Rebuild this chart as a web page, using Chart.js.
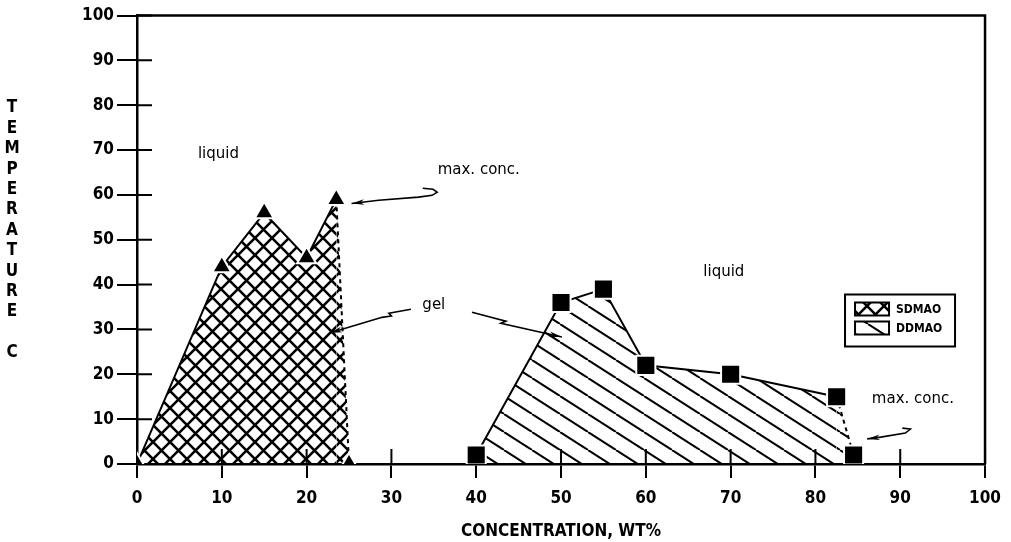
<!DOCTYPE html>
<html>
<head>
<meta charset="utf-8">
<script src="https://cdn.jsdelivr.net/npm/chart.js@4.4.1/dist/chart.umd.min.js"></script>
<style>
  html, body { margin: 0; padding: 0; background: #fff; }
  #wrap { width: 1011px; height: 542px; }
</style>
</head>
<body>
<div id="wrap"><canvas id="myChart"></canvas></div>
<script>
// phase diagram data
var sdmaoConc = [0, 10, 15, 20, 23.5, 25];
var sdmaoTemp = [0, 44, 56, 46, 59, 0];
var ddmaoConc = [40, 50, 55, 60, 70, 82.5, 84.5];
var ddmaoTemp = [2, 36, 39, 22, 20, 15, 2];

var xTicks = [0, 10, 20, 30, 40, 50, 60, 70, 80, 90, 100];
var yTicks = [0, 10, 20, 30, 40, 50, 60, 70, 80, 90, 100];

var xTitle = 'CONCENTRATION, WT%';
var yTitle = ['T', 'E', 'M', 'P', 'E', 'R', 'A', 'T', 'U', 'R', 'E', '', 'C'];

// text labels placed in data units
var notes = [
  { text: 'liquid', x: 9.6, y: 69 },
  { text: 'liquid', x: 69.2, y: 42.8 },
  { text: 'max. conc.', x: 40.3, y: 65.5 },
  { text: 'max. conc.', x: 91.5, y: 14.5 },
  { text: 'gel', x: 35, y: 35.4 }
];
// arrows, data units, last point is the head
var arrows = [
  [[33.7, 61.5], [34.9, 61.25], [35.4, 60.6], [34.8, 59.9], [33.2, 59.5], [28.5, 58.8], [25.3, 58.1]],
  [[32.3, 34.5], [29.7, 33.6], [30.0, 33.0], [28.9, 32.7], [22.7, 29.2]],
  [[39.5, 33.85], [43.5, 31.85], [42.9, 31.4], [50.1, 28.3]],
  [[90.25, 8.0], [91.2, 7.8], [90.6, 6.9], [87.7, 6.0], [86.1, 5.6]]
];

var narrow = "'Liberation Sans Narrow', 'DejaVu Sans Condensed', sans-serif";

function hatch(kind) {
  var c = document.createElement('canvas');
  var g = c.getContext('2d');
  var w, h;
  if (kind === 'cross') { w = 17; h = 17; } else { w = 28; h = 18; }
  c.width = w; c.height = h;
  g.strokeStyle = '#000';
  g.lineWidth = kind === 'cross' ? 2.6 : 2;
  g.beginPath();
  for (var k = -1; k <= 1; k++) {
    g.moveTo(k * w, 0); g.lineTo(k * w + w, h);
    if (kind === 'cross') { g.moveTo(k * w + w, 0); g.lineTo(k * w, h); }
  }
  g.stroke();
  return g.createPattern(c, 'repeat');
}

var crossFill = hatch('cross');
var lineFill = hatch('line');

function pts(xs, ys) {
  return xs.map(function (x, i) { return { x: x, y: ys[i] }; });
}

var decor = {
  id: 'decor',
  beforeDatasetsDraw: function (chart) {
    var ctx = chart.ctx, a = chart.chartArea;
    var xs = chart.scales.x, ys = chart.scales.y;
    ctx.save();
    ctx.strokeStyle = '#000';
    ctx.lineWidth = 2;
    ctx.beginPath();
    xs.ticks.forEach(function (t) {
      var px = xs.getPixelForValue(t.value);
      ctx.moveTo(px, a.bottom); ctx.lineTo(px, a.bottom - 15);
    });
    ys.ticks.forEach(function (t) {
      var py = ys.getPixelForValue(t.value);
      ctx.moveTo(a.left, py); ctx.lineTo(a.left + 15, py);
    });
    ctx.stroke();
    // frame top and right
    ctx.lineWidth = 2.5;
    ctx.beginPath();
    ctx.moveTo(a.left, a.top); ctx.lineTo(a.right, a.top); ctx.lineTo(a.right, a.bottom);
    ctx.stroke();
    ctx.restore();
  },
  afterDraw: function (chart) {
    var ctx = chart.ctx, a = chart.chartArea;
    var xs = chart.scales.x, ys = chart.scales.y;
    ctx.save();
    // stacked y title
    ctx.fillStyle = '#000';
    ctx.font = 'bold 17px ' + narrow;
    ctx.textAlign = 'center';
    ctx.textBaseline = 'middle';
    yTitle.forEach(function (ch, i) {
      ctx.fillText(ch, 12, 108 + i * 20.4);
    });
    // notes
    ctx.font = '15px "DejaVu Sans", sans-serif';
    notes.forEach(function (n) {
      ctx.fillText(n.text, xs.getPixelForValue(n.x), ys.getPixelForValue(n.y));
    });
    // arrows
    ctx.strokeStyle = '#000';
    ctx.lineWidth = 1.6;
    arrows.forEach(function (ar) {
      var p = ar.map(function (q) { return [xs.getPixelForValue(q[0]), ys.getPixelForValue(q[1])]; });
      ctx.beginPath();
      ctx.moveTo(p[0][0], p[0][1]);
      for (var i = 1; i < p.length; i++) ctx.lineTo(p[i][0], p[i][1]);
      ctx.stroke();
      var e = p[p.length - 1], s = p[p.length - 2];
      var ang = Math.atan2(e[1] - s[1], e[0] - s[0]);
      ctx.beginPath();
      ctx.moveTo(e[0], e[1]);
      ctx.lineTo(e[0] - 13 * Math.cos(ang - 0.22), e[1] - 13 * Math.sin(ang - 0.22));
      ctx.lineTo(e[0] - 9 * Math.cos(ang), e[1] - 9 * Math.sin(ang));
      ctx.lineTo(e[0] - 13 * Math.cos(ang + 0.22), e[1] - 13 * Math.sin(ang + 0.22));
      ctx.closePath();
      ctx.fill();
    });
    // legend
    var bx = a.right - 140, by = a.top + 279;
    ctx.lineWidth = 2;
    ctx.fillStyle = '#fff';
    ctx.fillRect(bx, by, 110, 52);
    ctx.strokeRect(bx, by, 110, 52);
    ctx.font = 'bold 12px ' + narrow;
    ctx.textAlign = 'left';
    chart.data.datasets.forEach(function (d, i) {
      var sy = by + 8 + i * 19;
      ctx.fillStyle = '#fff';
      ctx.fillRect(bx + 10, sy, 34, 13);
      ctx.fillStyle = d.backgroundColor;
      ctx.fillRect(bx + 10, sy, 34, 13);
      ctx.strokeRect(bx + 10, sy, 34, 13);
      ctx.fillStyle = '#000';
      ctx.fillText(d.label, bx + 51, sy + 7);
    });
    ctx.restore();
  }
};

function dashLast(n) {
  return function (c) { return c.p1DataIndex === n - 1 ? [4, 4] : undefined; };
}

var chart = new Chart(document.getElementById('myChart').getContext('2d'), {
  type: 'line',
  data: {
    datasets: [{
      label: 'SDMAO',
      data: pts(sdmaoConc, sdmaoTemp),
      borderColor: '#000',
      borderWidth: 2,
      backgroundColor: crossFill,
      fill: 'origin',
      tension: 0,
      pointStyle: 'triangle',
      pointRadius: 11,
      pointBackgroundColor: '#000',
      pointBorderColor: '#fff',
      pointBorderWidth: 2,
      segment: { borderDash: dashLast(sdmaoConc.length) }
    }, {
      label: 'DDMAO',
      data: pts(ddmaoConc, ddmaoTemp),
      borderColor: '#000',
      borderWidth: 2,
      backgroundColor: lineFill,
      fill: 'origin',
      tension: 0,
      pointStyle: 'rect',
      pointRadius: 13.5,
      pointBackgroundColor: '#000',
      pointBorderColor: '#fff',
      pointBorderWidth: 2,
      segment: { borderDash: dashLast(ddmaoConc.length) }
    }]
  },
  options: {
    responsive: true,
    maintainAspectRatio: false,
    animation: false,
    layout: { padding: { left: 0, right: 23, top: 15, bottom: 0 } },
    plugins: {
      legend: { display: false },
      tooltip: { enabled: false }
    },
    scales: {
      x: {
        type: 'linear',
        min: 0,
        max: 100,
        afterBuildTicks: function (s) { s.ticks = xTicks.map(function (v) { return { value: v }; }); },
        afterFit: function (s) { s.height = 78; },
        grid: { drawOnChartArea: false, color: '#000', lineWidth: 2, tickLength: 14 },
        border: { color: '#000', width: 2.5 },
        ticks: { color: '#000', padding: 10, maxRotation: 0, font: { family: narrow, size: 17, weight: 'bold' } },
        title: { display: true, text: xTitle, color: '#000', padding: { top: 4, bottom: 0 }, font: { family: narrow, size: 17, weight: 'bold' } }
      },
      y: {
        min: 0,
        max: 100,
        afterBuildTicks: function (s) { s.ticks = yTicks.map(function (v) { return { value: v }; }); },
        afterFit: function (s) { s.width = 137; },
        grid: { drawOnChartArea: false, color: '#000', lineWidth: 2, tickLength: 20 },
        border: { color: '#000', width: 2.5 },
        ticks: { color: '#000', padding: 3, font: { family: narrow, size: 17, weight: 'bold' } }
      }
    }
  },
  plugins: [decor]
});
</script>
</body>
</html>
